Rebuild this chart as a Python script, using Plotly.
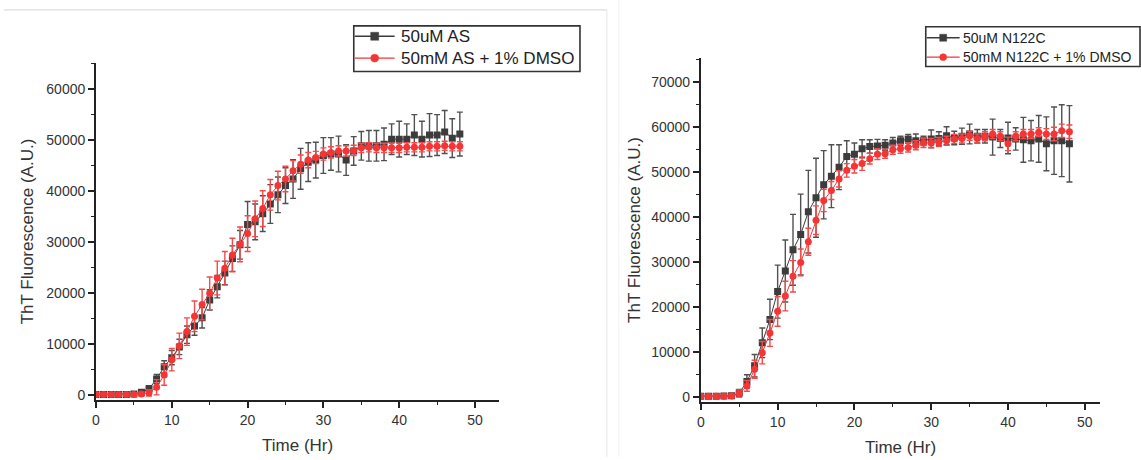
import plotly.graph_objects as go

time_hr = [0, 1, 2, 3, 4, 5, 6, 7, 8, 9, 10, 11, 12, 13, 14, 15, 16, 17, 18, 19, 20,
           21, 22, 23, 24, 25, 26, 27, 28, 29, 30, 31, 32, 33, 34, 35, 36, 37, 38, 39, 40,
           41, 42, 43, 44, 45, 46, 47, 48]

# Left panel: AS
as_ctrl = [200, 200, 200, 200, 200, 300, 600, 1300, 3200, 5600, 7400, 9500, 11900, 13600,
           15200, 18700, 21300, 24000, 26800, 29500, 33500, 34000, 35600, 37500, 39300,
           41100, 42400, 44400, 45700, 46100, 47000, 47300, 47300, 46100, 47900, 48900,
           48900, 48900, 49200, 50200, 50200, 50200, 51000, 50200, 51000, 51000, 51600,
           50400, 51200]
as_ctrl_err = [300, 300, 300, 300, 300, 300, 400, 600, 900, 1200, 1400, 1500, 1700, 1800,
               2000, 2000, 2200, 2300, 2500, 2800, 4500, 3500, 3500, 3800, 3500, 3500, 3800,
               4000, 3800, 3500, 3500, 3200, 3500, 3000, 2800, 2800, 3000, 3000, 3200, 3000,
               3500, 3000, 4000, 3500, 4200, 4000, 4200, 3800, 4300]
as_dmso = [200, 200, 200, 200, 200, 200, 300, 500, 1600, 4000, 7000, 9700, 12500, 15500,
           17800, 20000, 23000, 24900, 27500, 29600, 31700, 34600, 36600, 39300, 41100,
           42400, 44000, 45300, 46100, 46600, 47300, 47600, 47900, 47900, 48000, 48500,
           48600, 48500, 48500, 48500, 48500, 48600, 48600, 48600, 48800, 48800, 48900,
           48800, 48800]
as_dmso_err = [300, 300, 300, 300, 300, 300, 400, 600, 1500, 2000, 2200, 2500, 2700, 3000,
               3000, 3200, 3300, 3300, 3300, 3400, 3500, 3500, 3500, 3000, 2800, 2500, 2000,
               1800, 1500, 1200, 1200, 1100, 1000, 1000, 1000, 900, 900, 900, 900, 900, 900,
               900, 900, 900, 900, 900, 900, 900, 900]

# Right panel: N122C
n_ctrl = [100, 100, 100, 150, 200, 800, 3400, 6900, 12000, 17200, 23400, 28000, 32700,
          36100, 41200, 44300, 47200, 49100, 51100, 53500, 54000, 55200, 55700, 55800,
          56000, 56500, 57000, 57400, 57000, 57000, 57400, 57500, 58100, 57600, 58000,
          58500, 58000, 58000, 57800, 57500, 57600, 57400, 57200, 57000, 57400, 56300,
          57000, 57000, 56300]
n_ctrl_err = [400, 400, 400, 400, 400, 800, 1500, 2500, 3300, 4500, 5900, 6900, 7900, 9000,
              9200, 8800, 7600, 7000, 5000, 3500, 2500, 2000, 1500, 1500, 1200, 1200, 1000,
              1000, 1500, 1000, 2000, 1500, 2000, 1500, 1800, 2200, 1500, 1500, 4000, 2000,
              3500, 2500, 5000, 4500, 5200, 6000, 7500, 8000, 8500]
n_dmso = [100, 100, 100, 100, 150, 700, 2400, 6100, 9800, 14200, 19000, 22400, 26800, 29900,
          34500, 39300, 43700, 45900, 48500, 50400, 51300, 51900, 53000, 54000, 54100,
          55000, 55200, 55500, 56000, 56500, 56500, 56700, 57000, 57400, 57500, 58100,
          57500, 58000, 58500, 58000, 56300, 58000, 58500, 58500, 58900, 58500, 58500,
          59200, 59000]
n_dmso_err = [400, 400, 400, 400, 400, 800, 1200, 2000, 2500, 3000, 3300, 3300, 3500, 3000,
              3000, 3200, 2500, 2000, 1800, 1500, 1500, 1500, 1200, 1200, 1000, 1000, 1000,
              1000, 1000, 1000, 1000, 1000, 1000, 1000, 1000, 1000, 1000, 1000, 1000, 1000,
              1500, 1000, 1000, 1000, 1000, 1200, 1500, 1500, 1500]

legend_left = ["50uM AS", "50mM AS + 1% DMSO"]
legend_right = ["50uM N122C", "50mM N122C + 1% DMSO"]

BLACK = "#3c3c3c"
BLACK_ERR = "#505050"
RED = "#f53535"
RED_ERR = "#f44a4a"
FONT = "Liberation Sans, Arial, sans-serif"
W, H = 1141, 460

fig = go.Figure()


def add_series(x, y, err, name, color, ecolor, symbol, xa, ya):
    fig.add_trace(go.Scatter(
        x=x, y=y, name=name, mode="lines+markers",
        xaxis=xa, yaxis=ya, showlegend=False,
        line=dict(color=color, width=1),
        marker=dict(symbol=symbol, size=7, color=color),
        error_y=dict(type="data", array=err, visible=True, color=ecolor,
                     thickness=1.4, width=3),
    ))


add_series(time_hr, as_ctrl, as_ctrl_err, legend_left[0], BLACK, BLACK_ERR, "square", "x", "y")
add_series(time_hr, as_dmso, as_dmso_err, legend_left[1], RED, RED_ERR, "circle", "x", "y")
add_series(time_hr, n_ctrl, n_ctrl_err, legend_right[0], BLACK, BLACK_ERR, "square", "x2", "y2")
add_series(time_hr, n_dmso, n_dmso_err, legend_right[1], RED, RED_ERR, "circle", "x2", "y2")

axis_common = dict(
    showline=True, linecolor="#222222", linewidth=1.8, mirror=False,
    showgrid=False, zeroline=False,
    ticks="outside", ticklen=6, tickwidth=1.5, tickcolor="#222222",
    tickfont=dict(family=FONT, size=14, color="#333333"),
    tickformat="d",
    minor=dict(ticks="outside", ticklen=3, tickwidth=1.3, tickcolor="#222222"),
)
title_font = dict(family=FONT, size=17, color="#333333")


# manual legends (paper pixel coordinates)
def px(x):
    return x / W


def py(y):
    return 1 - y / H


shapes = [
    dict(type="line", xref="paper", yref="paper", x0=0, x1=px(605),
         y0=py(10), y1=py(10), line=dict(color="#d4d4d4", width=1)),
    dict(type="line", xref="paper", yref="paper", x0=px(605), x1=px(605),
         y0=0, y1=py(10), line=dict(color="#e6e6e6", width=1)),
    dict(type="line", xref="paper", yref="paper", x0=px(617), x1=px(617),
         y0=0, y1=1, line=dict(color="#f3f3f3", width=1)),
]
annotations = []


def add_legend(box, rows, names, text_x, line_x, msize, fsize):
    x0, y0, x1, y1 = box
    shapes.append(dict(type="rect", xref="paper", yref="paper",
                       x0=px(x0), x1=px(x1), y0=py(y1), y1=py(y0),
                       line=dict(color="#333333", width=1.6), fillcolor="white",
                       layer="above"))
    styles = [(BLACK, "square"), (RED, "circle")]
    for (ry, name, (col, sym)) in zip(rows, names, styles):
        shapes.append(dict(type="line", xref="paper", yref="paper",
                           x0=px(line_x[0]), x1=px(line_x[1]), y0=py(ry), y1=py(ry),
                           line=dict(color=col, width=1.3), layer="above"))
        cx = (line_x[0] + line_x[1]) / 2
        h = msize / 2
        shapes.append(dict(type="rect" if sym == "square" else "circle",
                           xref="paper", yref="paper",
                           x0=px(cx - h), x1=px(cx + h), y0=py(ry + h), y1=py(ry - h),
                           line=dict(color=col, width=0.5), fillcolor=col, layer="above"))
        annotations.append(dict(xref="paper", yref="paper", x=px(text_x), y=py(ry),
                                xanchor="left", yanchor="middle", showarrow=False,
                                text=name, font=dict(family=FONT, size=fsize, color="#222222")))


add_legend((351, 26, 578, 72), [36.5, 58.5], legend_left, 396, (352, 392), 8, 17)
add_legend((925, 27, 1140, 67), [38, 57.5], legend_right, 960, (926, 959), 7, 14)

fig.update_layout(
    width=W, height=H,
    margin=dict(l=0, r=0, t=0, b=0),
    paper_bgcolor="white", plot_bgcolor="white",
    font=dict(family=FONT, color="#333333"),
    showlegend=False,
    xaxis=dict(domain=[92.3 / W, 497 / W], range=[0, 53.2], anchor="y",
               dtick=10, minor_dtick=5,
               title=dict(text="Time (Hr)", font=title_font, standoff=12),
               **axis_common),
    yaxis=dict(domain=[1 - 403 / H, 1 - 63 / H], range=[-970, 65200], anchor="x",
               tick0=0, dtick=10000, minor_dtick=5000,
               title=dict(text="ThT Fluorescence (A.U.)", font=title_font, standoff=8),
               **axis_common),
    xaxis2=dict(domain=[699.3 / W, 1100 / W], range=[0, 52.0], anchor="y2",
                dtick=10, minor_dtick=5,
                title=dict(text="Time (Hr)", font=title_font, standoff=12),
                **axis_common),
    yaxis2=dict(domain=[1 - 405 / H, 1 - 58 / H], range=[-1260, 75500], anchor="x2",
                tick0=0, dtick=10000, minor_dtick=5000,
                title=dict(text="ThT Fluorescence (A.U.)", font=title_font, standoff=6),
                **axis_common),
    shapes=shapes,
    annotations=annotations,
)

fig.write_html("out.html")
